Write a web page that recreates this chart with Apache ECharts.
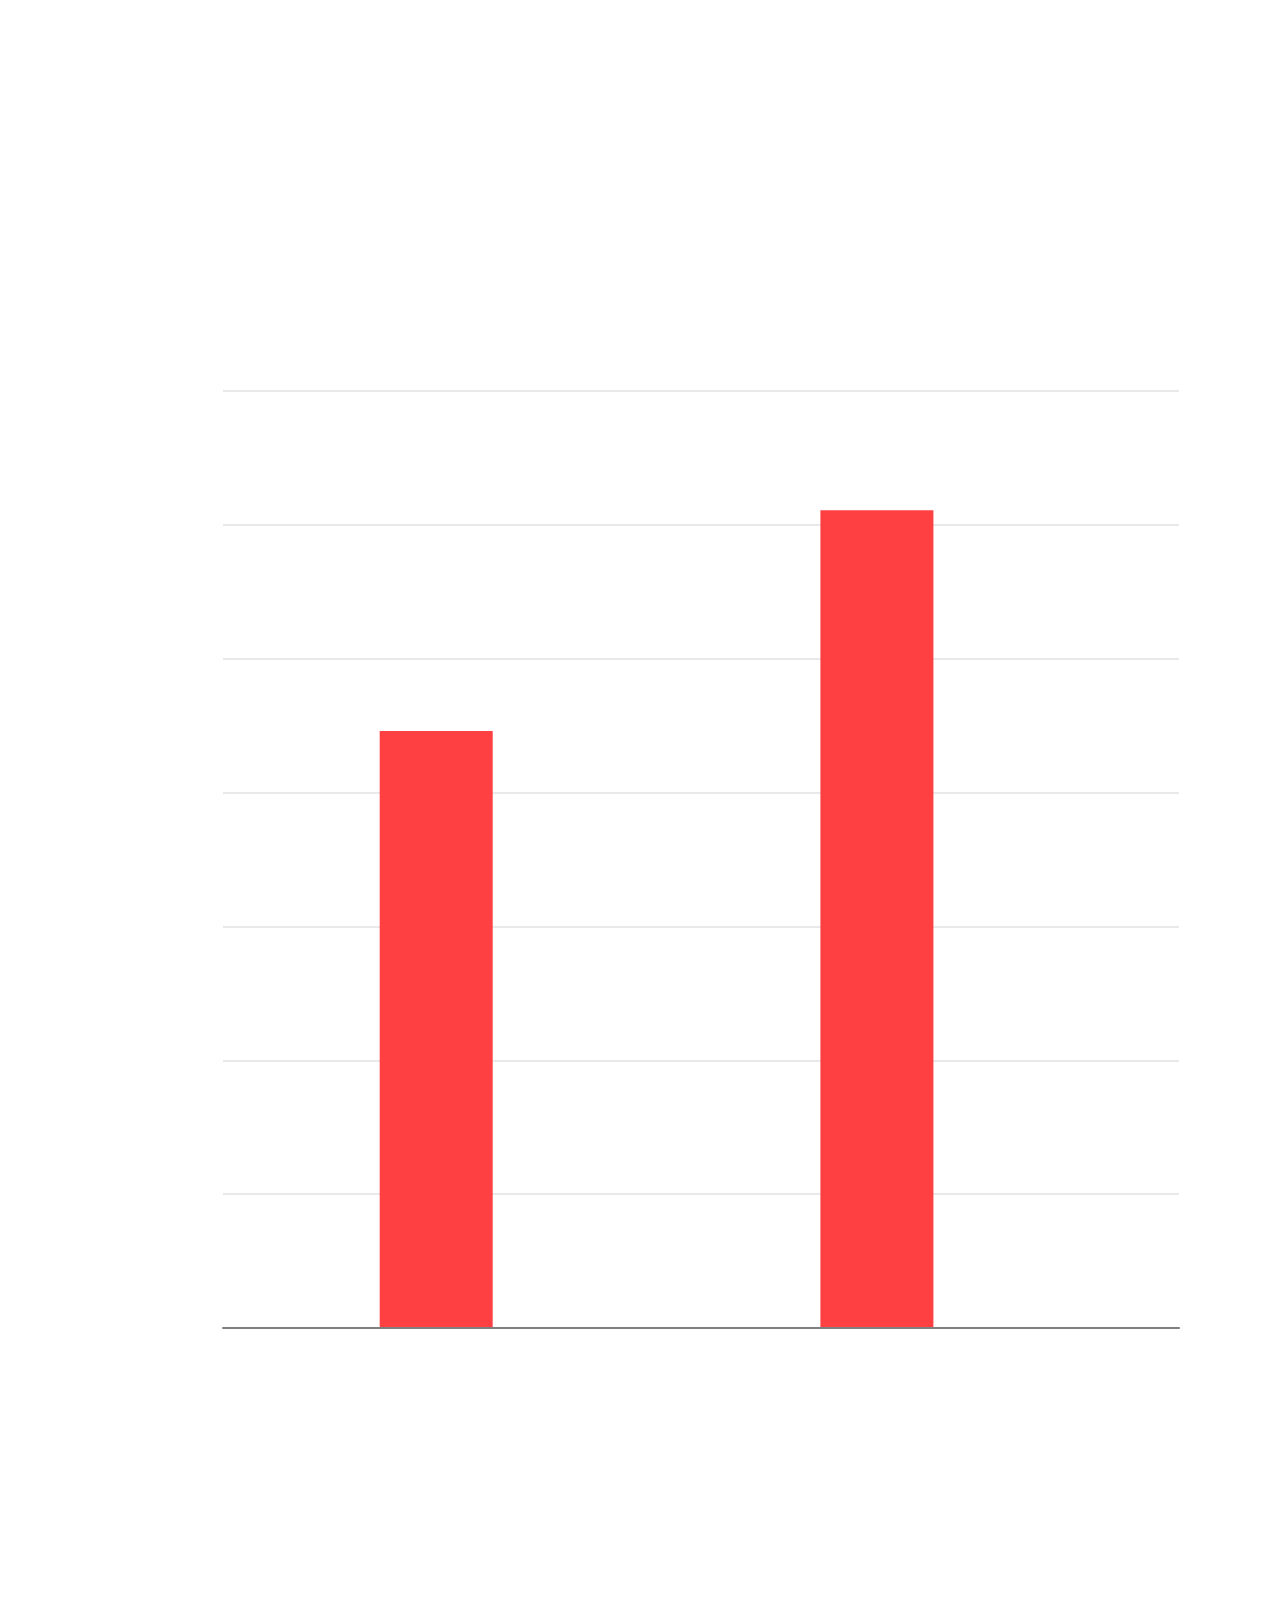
<!DOCTYPE html>
<html>
<head>
<meta charset="utf-8">
<script src="https://cdn.jsdelivr.net/npm/echarts@6/dist/echarts.min.js"></script>
<style>
html,body{margin:0;padding:0;background:#fff;}
#chart{width:1280px;height:1609px;}
</style>
</head>
<body>
<div id="chart"></div>
<script>
// Data (no labels present in the reference)
const barPositions = [22.3, 68.4];   // position along the (unlabelled) horizontal value axis, 0..100
const barValues = [4.46, 6.11];      // heights in gridline units
const yTicks = [0, 1, 2, 3, 4, 5, 6, 7];

const chart = echarts.init(document.getElementById('chart'), null, {renderer: 'canvas'});
chart.setOption({
  animation: false,
  backgroundColor: '#ffffff',
  grid: {left: 223, right: 101, top: 391, bottom: 281, containLabel: false},
  xAxis: {
    type: 'value',
    min: 0,
    max: 100,
    z: 5,
    axisLine: {show: true, onZero: false, lineStyle: {color: '#7f7f7f', width: 2}},
    axisTick: {show: false},
    axisLabel: {show: false},
    splitLine: {show: false}
  },
  yAxis: {
    type: 'value',
    min: yTicks[0],
    max: yTicks[yTicks.length - 1],
    interval: 1,
    axisLine: {show: false},
    axisTick: {show: false},
    axisLabel: {show: false},
    splitLine: {show: true, lineStyle: {color: '#e2e2e2', width: 1.5}}
  },
  series: [{
    type: 'bar',
    barWidth: 113,
    itemStyle: {color: '#ff4043'},
    data: barPositions.map((x, i) => [x, barValues[i]])
  }]
});
</script>
</body>
</html>
